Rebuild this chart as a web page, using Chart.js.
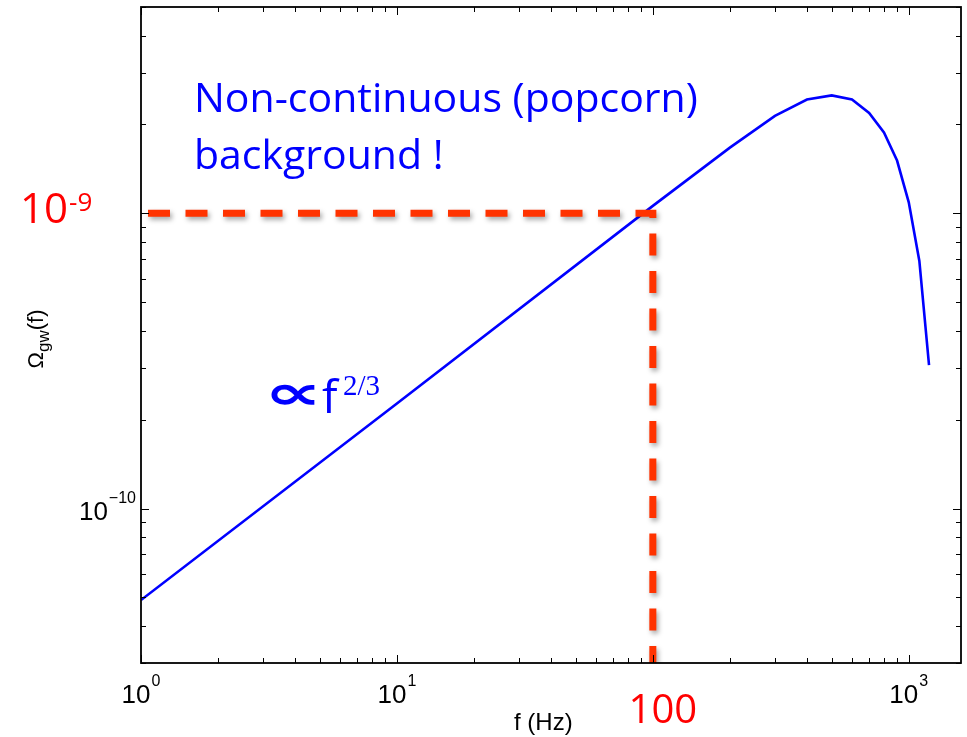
<!DOCTYPE html>
<html>
<head>
<meta charset="utf-8">
<script src="https://cdn.jsdelivr.net/npm/chart.js@4.4.1/dist/chart.umd.min.js"></script>
<style>
  html, body { margin: 0; padding: 0; background: #fff; }
  #wrap { width: 967px; height: 737px; }
</style>
</head>
<body>
<div id="wrap"><canvas id="spectrum"></canvas></div>
<script>
// ---------------------------------------------------------------------------
// Data: popcorn GW background spectrum (log-log)
// ---------------------------------------------------------------------------
const freqHz   = [1, 10, 100, 200, 300, 400, 500, 600, 700, 800, 900, 1000, 1100, 1200];
const omegaGw  = [4.9e-11, 2.27e-10, 1.06e-9, 1.67e-9, 2.14e-9, 2.43e-9, 2.51e-9,
                  2.43e-9, 2.19e-9, 1.88e-9, 1.51e-9, 1.09e-9, 6.9e-10, 3.06e-10];

// red guide lines through f = 100 Hz, Omega = 1e-9
const guideFreq  = [1, 100, 100];
const guideOmega = [1e-9, 1e-9, 3e-11];

// axis ranges and labelled decades
const xRange = [1, 1600];
const yRange = [3e-11, 5e-9];
const xLabelled = [1, 10, 1000];
const xLabelExp = ['0', '1', '3'];
const yLabelled = [1e-10];
const yLabelExp = ['\u221210'];

// ---------------------------------------------------------------------------
// Helpers
// ---------------------------------------------------------------------------
function logTicks(lo, hi) {
    const out = [];
    for (let d = Math.pow(10, Math.floor(Math.log10(lo))); d <= hi; d *= 10) {
        for (let m = 1; m <= 9; m++) {
            const v = d * m;
            if (v >= lo * 0.999 && v <= hi * 1.001) out.push({ v: v, major: m === 1 });
        }
    }
    return out;
}

// "base^exp" drawn with a raised exponent
function drawPower(ctx, x, y, base, exp, baseFont, expFont, rise, align, color) {
    ctx.fillStyle = color;
    ctx.textBaseline = 'alphabetic';
    ctx.textAlign = 'left';
    ctx.font = baseFont;
    const wb = ctx.measureText(base).width;
    ctx.font = expFont;
    const we = ctx.measureText(exp).width;
    const gap = 1;
    const total = wb + gap + we;
    let x0 = x;
    if (align === 'center') x0 = x - total / 2;
    if (align === 'right') x0 = x - total;
    ctx.font = baseFont;
    ctx.fillText(base, x0, y);
    ctx.font = expFont;
    ctx.fillText(exp, x0 + wb + gap, y - rise);
}

// ---------------------------------------------------------------------------
// Plugins
// ---------------------------------------------------------------------------
const guideShadow = {
    id: 'guideShadow',
    beforeDatasetDraw(chart, args) {
        if (args.index !== 0) return;
        const ctx = chart.ctx;
        ctx.save();
        ctx.shadowColor = 'rgba(0,0,0,0.35)';
        ctx.shadowBlur = 5;
        ctx.shadowOffsetX = 2;
        ctx.shadowOffsetY = 3;
    },
    afterDatasetDraw(chart, args) {
        if (args.index !== 0) return;
        chart.ctx.restore();
    }
};

const frame = {
    id: 'frame',
    afterDraw(chart) {
        const ctx = chart.ctx;
        const a = chart.chartArea;
        const xs = chart.scales.x;
        const ys = chart.scales.y;

        ctx.save();
        // inward ticks on all four sides
        ctx.strokeStyle = '#000';
        ctx.lineWidth = 1;
        logTicks(xRange[0], xRange[1]).forEach(t => {
            const px = Math.round(xs.getPixelForValue(t.v)) + 0.5;
            const len = t.major ? 8 : 5;
            ctx.beginPath();
            ctx.moveTo(px, a.bottom); ctx.lineTo(px, a.bottom - len);
            ctx.moveTo(px, a.top); ctx.lineTo(px, a.top + len);
            ctx.stroke();
        });
        logTicks(yRange[0], yRange[1]).forEach(t => {
            const py = Math.round(ys.getPixelForValue(t.v)) + 0.5;
            const len = t.major ? 8 : 5;
            ctx.beginPath();
            ctx.moveTo(a.left, py); ctx.lineTo(a.left + len, py);
            ctx.moveTo(a.right, py); ctx.lineTo(a.right - len, py);
            ctx.stroke();
        });

        // box
        ctx.lineWidth = 1.8;
        ctx.strokeRect(a.left, a.top, a.right - a.left, a.bottom - a.top);

        // tick labels
        xLabelled.forEach((v, i) => {
            drawPower(ctx, xs.getPixelForValue(v), a.bottom + 40, '10', xLabelExp[i],
                '26px "Liberation Sans"', '16px "Liberation Sans"', 17, 'center', '#000');
        });
        yLabelled.forEach((v, i) => {
            drawPower(ctx, a.left - 5, ys.getPixelForValue(v) + 11, '10', yLabelExp[i],
                '26px "Liberation Sans"', '16px "Liberation Sans"', 17, 'right', '#000');
        });

        // red highlighted values
        drawPower(ctx, 20, ys.getPixelForValue(guideOmega[0]) + 10, '10', '-9',
            '42px "Open Sans"', '26px "Open Sans"', 12, 'left', '#ff0000');
        ctx.fillStyle = '#ff0000';
        ctx.font = '40px "Open Sans"';
        ctx.textAlign = 'center';
        ctx.fillText('100', xs.getPixelForValue(guideFreq[1]) + 10, a.bottom + 60);

        // axis titles
        ctx.fillStyle = '#000';
        ctx.textAlign = 'left';
        ctx.font = '24px "Liberation Sans"';
        ctx.fillText('f (Hz)', 514, a.bottom + 67);

        ctx.save();
        ctx.translate(43, 339);
        ctx.rotate(-Math.PI / 2);
        ctx.font = '22px "Liberation Sans"';
        const wO = ctx.measureText('\u03A9').width;
        const wF = ctx.measureText('(f)').width;
        ctx.font = '17px "Liberation Sans"';
        const wS = ctx.measureText('gw').width;
        let tx = -(wO + wS + wF) / 2;
        ctx.font = '22px "Liberation Sans"';
        ctx.fillText('\u03A9', tx, 0);
        ctx.font = '17px "Liberation Sans"';
        ctx.fillText('gw', tx + wO, 6);
        ctx.font = '22px "Liberation Sans"';
        ctx.fillText('(f)', tx + wO + wS, 0);
        ctx.restore();

        // annotations
        ctx.fillStyle = '#0000ff';
        ctx.font = '41px "Open Sans"';
        ctx.fillText('Non-continuous (popcorn)', 194, 112);
        ctx.fillText('background !', 194, 169);

        // proportional-to sign, stretched wide and flat
        ctx.save();
        ctx.translate(264, 409);
        ctx.scale(1.7, 1);
        ctx.font = 'bold 48px "DejaVu Sans"';
        ctx.fillText('\u221D', 0, 0);
        ctx.restore();
        ctx.font = '46px "Open Sans"';
        ctx.fillText('f', 322, 413);
        ctx.font = '29px "Liberation Serif"';
        ctx.fillText('2/3', 343, 395);
        ctx.restore();
    }
};

// ---------------------------------------------------------------------------
// Chart
// ---------------------------------------------------------------------------
const ctx = document.getElementById('spectrum').getContext('2d');

new Chart(ctx, {
    type: 'line',
    data: {
        datasets: [
            {
                label: 'guide',
                data: guideFreq.map((f, i) => ({ x: f, y: guideOmega[i] })),
                borderColor: '#ff3300',
                borderWidth: 7,
                borderDash: [22, 15.5],
                borderDashOffset: 30.5,
                borderCapStyle: 'butt',
                pointRadius: 0,
                tension: 0,
                order: 0
            },
            {
                label: 'Omega_gw',
                data: freqHz.map((f, i) => ({ x: f, y: omegaGw[i] })),
                borderColor: '#0000ff',
                borderWidth: 2.6,
                pointRadius: 0,
                tension: 0,
                order: 1
            }
        ]
    },
    options: {
        responsive: true,
        maintainAspectRatio: false,
        animation: false,
        devicePixelRatio: 1,
        layout: { padding: { left: 141, right: 6, top: 7, bottom: 74 } },
        scales: {
            x: { type: 'logarithmic', min: xRange[0], max: xRange[1], display: false },
            y: { type: 'logarithmic', min: yRange[0], max: yRange[1], display: false }
        },
        plugins: {
            legend: { display: false },
            tooltip: { enabled: false }
        }
    },
    plugins: [guideShadow, frame]
});
</script>
</body>
</html>
